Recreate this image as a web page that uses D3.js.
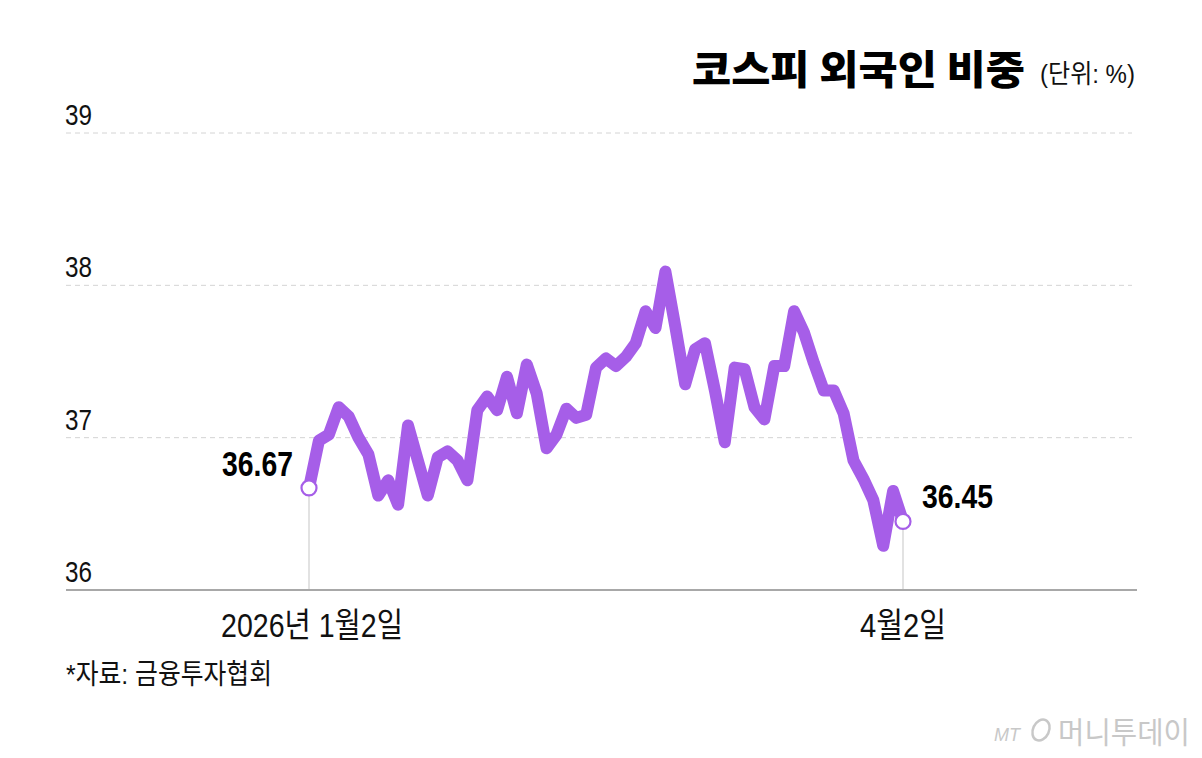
<!DOCTYPE html>
<html><head><meta charset="utf-8">
<script src="https://cdn.jsdelivr.net/npm/d3@7"></script>
<style>
html,body{margin:0;padding:0;background:#fff;}
svg{display:block;}
</style></head>
<body>
<svg id="c" width="1202" height="758"></svg>
<script>
// ---- data ----
const title = "코스피 외국인 비중";
const unitLabel = "(단위: %)";
const source = "*자료: 금융투자협회";
const yTicks = [36, 37, 38, 39];
const xTickLabels = ["2026년 1월2일", "4월2일"];
// foreign ownership share of KOSPI (%), daily, 2026-01-02 .. 2026-04-02 (61 trading days)
const values = [
  36.67, 36.98, 37.02, 37.20, 37.14, 37.00, 36.89, 36.62, 36.72, 36.56,
  37.08, 36.85, 36.62, 36.87, 36.91, 36.85, 36.72, 37.18, 37.27, 37.18,
  37.40, 37.16, 37.48, 37.29, 36.93, 37.02, 37.19, 37.13, 37.15, 37.46,
  37.52, 37.47, 37.53, 37.62, 37.83, 37.72, 38.09, 37.73, 37.35, 37.58,
  37.62, 37.31, 36.97, 37.46, 37.45, 37.20, 37.12, 37.47, 37.47, 37.83,
  37.69, 37.49, 37.31, 37.31, 37.16, 36.85, 36.73, 36.59, 36.29, 36.65,
  36.45
];
const labelled = [0, values.length - 1];

// ---- drawing ----
const svg = d3.select("#c");
const purple = "#a65ee8";
const sans = "'Liberation Sans',Arial,sans-serif";
const kr = "'Liberation Sans','Noto Sans CJK KR',sans-serif";

const x = d3.scaleLinear().domain([0, values.length - 1]).range([309, 903]);
const y = d3.scaleLinear().domain([36, 39]).range([590, 133]);

// gridlines
svg.append("g").selectAll("line").data(yTicks.filter(t => t !== 36)).join("line")
  .attr("x1", 66).attr("x2", 1132)
  .attr("y1", d => y(d)).attr("y2", d => y(d))
  .attr("stroke", "#d4d4d4").attr("stroke-width", 1).attr("stroke-dasharray", "5,4");

// y labels
svg.append("g").selectAll("text").data(yTicks).join("text")
  .attr("x", 65).attr("y", d => y(d) - 8)
  .attr("font-family", sans).attr("font-size", 30).attr("fill", "#111")
  .attr("textLength", 27).attr("lengthAdjust", "spacingAndGlyphs")
  .text(d => d);

// drop lines
svg.append("g").selectAll("line").data(labelled).join("line")
  .attr("x1", i => x(i)).attr("x2", i => x(i))
  .attr("y1", i => y(values[i])).attr("y2", y(36))
  .attr("stroke", "#cfcfcf").attr("stroke-width", 1.2);

// baseline
svg.append("line").attr("x1", 66).attr("x2", 1137)
  .attr("y1", y(36)).attr("y2", y(36))
  .attr("stroke", "#a8a8a8").attr("stroke-width", 2);

// line
const line = d3.line().x((d, i) => x(i)).y(d => y(d));
svg.append("path").datum(values)
  .attr("d", line).attr("fill", "none")
  .attr("stroke", purple).attr("stroke-width", 12)
  .attr("stroke-linejoin", "round").attr("stroke-linecap", "round");

// end circles
svg.append("g").selectAll("circle").data(labelled).join("circle")
  .attr("cx", i => x(i)).attr("cy", i => y(values[i])).attr("r", 7.5)
  .attr("fill", "#fff").attr("stroke", purple).attr("stroke-width", 2.2);

// value labels
svg.append("text").attr("x", x(0) - 16).attr("y", y(values[0]) - 12)
  .attr("text-anchor", "end").attr("font-family", sans).attr("font-weight", "bold")
  .attr("font-size", 35).attr("fill", "#000")
  .attr("textLength", 71).attr("lengthAdjust", "spacingAndGlyphs")
  .text(values[0].toFixed(2));
svg.append("text").attr("x", x(values.length - 1) + 19).attr("y", y(values[values.length - 1]) - 13)
  .attr("text-anchor", "start").attr("font-family", sans).attr("font-weight", "bold")
  .attr("font-size", 34).attr("fill", "#000")
  .attr("textLength", 71).attr("lengthAdjust", "spacingAndGlyphs")
  .text(values[values.length - 1].toFixed(2));

// x labels
svg.append("g").selectAll("text").data(labelled).join("text")
  .attr("x", (i, k) => x(i) + (k === 0 ? 3 : 0)).attr("y", 637)
  .attr("text-anchor", "middle")
  .attr("font-family", kr).attr("font-size", 34).attr("fill", "#111")
  .attr("textLength", (i, k) => k === 0 ? 182 : 86).attr("lengthAdjust", "spacingAndGlyphs")
  .text((i, k) => xTickLabels[k]);

// title
svg.append("text").attr("x", 692).attr("y", 84)
  .attr("font-family", "'Noto Sans CJK KR',sans-serif").attr("font-weight", 900)
  .attr("font-size", 40).attr("fill", "#000")
  .attr("textLength", 333).attr("lengthAdjust", "spacingAndGlyphs")
  .text(title);
svg.append("text").attr("x", 1040).attr("y", 83)
  .attr("font-family", kr).attr("font-size", 26).attr("fill", "#111")
  .attr("textLength", 95).attr("lengthAdjust", "spacingAndGlyphs")
  .text(unitLabel);

// source
svg.append("text").attr("x", 66).attr("y", 684)
  .attr("font-family", kr).attr("font-size", 28).attr("fill", "#111")
  .attr("textLength", 206).attr("lengthAdjust", "spacingAndGlyphs")
  .text(source);

// watermark
const wm = svg.append("g").attr("fill", "#c8c8c8");
wm.append("text").attr("x", 994).attr("y", 741)
  .attr("font-family", "'Liberation Sans',sans-serif").attr("font-style", "italic")
  .attr("font-size", 18).text("MT");
wm.append("ellipse").attr("cx", 1041).attr("cy", 730).attr("rx", 8).attr("ry", 11)
  .attr("fill", "none").attr("stroke", "#c8c8c8").attr("stroke-width", 2.5)
  .attr("transform", "rotate(25,1041,730)");
wm.append("text").attr("x", 1058).attr("y", 743)
  .attr("font-family", "'Noto Sans CJK KR',sans-serif").attr("font-size", 30)
  .attr("textLength", 132).attr("lengthAdjust", "spacingAndGlyphs")
  .text("머니투데이");
</script>
</body></html>
